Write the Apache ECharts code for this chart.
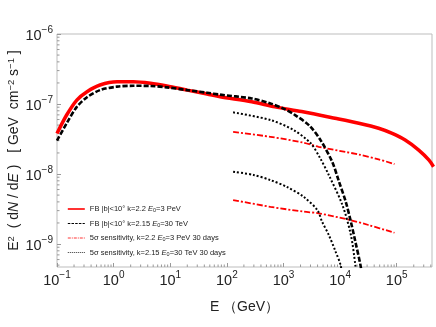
<!DOCTYPE html>
<html>
<head>
<meta charset="utf-8">
<script src="https://cdn.jsdelivr.net/npm/echarts@6/dist/echarts.min.js"></script>
<style>html,body{margin:0;padding:0;background:#fff}#c{width:436px;height:327px}</style>
</head>
<body>
<div id="c"></div>
<script>
// ---- data ----
const xMin = 0.1, xMax = 4.2e5, yMin = 4.7e-10, yMax = 1e-6;
const xTickLabels = [0.1, 1, 10, 100, 1000, 10000, 100000];
const yTickLabels = [1e-9, 1e-8, 1e-7, 1e-6];

const fbSoftE = [0.1, 0.148, 0.224, 0.339, 0.575, 1.15, 2.24, 4.47, 8.71, 20, 44.7, 76, 275, 708, 2090, 8130, 21400, 47900, 83200, 141000, 245000, 372000, 447000];
const fbSoftV = [3.8e-8, 6.97e-8, 1.14e-7, 1.50e-7, 1.87e-7, 2.08e-7, 2.08e-7, 1.98e-7, 1.81e-7, 1.58e-7, 1.39e-7, 1.27e-7, 1.08e-7, 9.1e-8, 7.8e-8, 6.25e-8, 5.3e-8, 4.5e-8, 3.8e-8, 3.06e-8, 2.2e-8, 1.58e-8, 1.27e-8];

const fbHardE = [0.1, 0.148, 0.224, 0.339, 0.575, 1.15, 2.24, 4.47, 8.71, 20, 44.7, 76, 275, 589, 1000, 1580, 2880, 4570, 7240, 9550, 12600, 15500, 18600, 22900, 26300];
const fbHardV = [3.0e-8, 5.3e-8, 9.1e-8, 1.25e-7, 1.58e-7, 1.77e-7, 1.82e-7, 1.81e-7, 1.73e-7, 1.58e-7, 1.45e-7, 1.36e-7, 1.2e-7, 1.02e-7, 8.6e-8, 7.0e-8, 4.9e-8, 3.0e-8, 1.5e-8, 7.8e-9, 4.0e-9, 2.08e-9, 1.08e-9, 5.0e-10, 2.5e-10];

const sensSoftE = [129, 589, 2290, 4170, 21400, 47900, 91200];
const sensSoftV1 = [4.0e-8, 3.4e-8, 2.8e-8, 2.45e-8, 1.9e-8, 1.62e-8, 1.39e-8];
const sensSoftE2 = [129, 589, 2290, 4170, 15100, 31600, 91200];
const sensSoftV2 = [4.25e-9, 3.4e-9, 2.9e-9, 2.75e-9, 2.2e-9, 1.87e-9, 1.45e-9];

const sensHardE1 = [129, 589, 1510, 3020, 4470, 6310, 11000, 15500, 18600, 20400];
const sensHardV1 = [7.6e-8, 5.9e-8, 4.25e-8, 2.75e-8, 1.67e-8, 9.7e-9, 3.6e-9, 1.35e-9, 5.0e-10, 2.5e-10];
const sensHardE2 = [129, 295, 589, 1170, 2290, 3980, 4790, 6310, 8320, 10200, 11700];
const sensHardV2 = [1.08e-8, 9.7e-9, 8.2e-9, 6.5e-9, 4.7e-9, 3.05e-9, 2.1e-9, 1.35e-9, 7.8e-10, 5.0e-10, 2.5e-10];

const names = [
  'FB |b|<10° k=2.2 E0=3 PeV',
  'FB |b|<10° k=2.15 E0=30 TeV',
  '5σ sensitivity, k=2.2 E0=3 PeV 30 days',
  '5σ sensitivity, k=2.15 E0=30 TeV 30 days'
];

// ---- helpers ----
const zip = (a, b) => a.map((v, i) => [v, b[i]]);
const isPow10 = v => Math.abs(Math.log10(v) - Math.round(Math.log10(v))) < 1e-6;
const supLabel = v => {
  if (!isPow10(v)) return '';
  const e = Math.round(Math.log10(v));
  return '{b|10}{s|' + String(e).replace('-', '−') + '}';
};
// minor tick values (2..9 x 10^k) inside the axis ranges
const minorX = [], minorY = [];
for (let k = -1; k <= 5; k++) for (let m = 2; m <= 9; m++) { const v = m * Math.pow(10, k); if (v > xMin && v < xMax) minorX.push(v); }
for (let k = -10; k <= -7; k++) for (let m = 2; m <= 9; m++) { const v = m * Math.pow(10, k); if (v > yMin && v < yMax) minorY.push(v); }
const tickData = minorX.map(v => [v, yMin, 0]).concat(minorY.map(v => [xMin, v, 1]));

const FF = 'Liberation Sans, Arial';
const labelRich = {
  b: { fontSize: 14.5, color: '#222', fontFamily: FF, lineHeight: 18, verticalAlign: 'bottom' },
  s: { fontSize: 10, color: '#222', fontFamily: FF, lineHeight: 18, verticalAlign: 'top', padding: [0, 0, 6, 0] }
};
const hiddenSymbol = { color: 'rgba(0,0,0,0)', borderWidth: 0, opacity: 0 };

const chart = echarts.init(document.getElementById('c'), null, { renderer: 'canvas' });
chart.setOption({
  animation: false,
  backgroundColor: '#fff',
  grid: { left: 57, right: 4, top: 34, bottom: 60, containLabel: false, outerBoundsMode: 'none',
    show: true, borderColor: '#bdbdbd', borderWidth: 1 },
  legend: {
    orient: 'vertical', left: 62, top: 200,
    itemWidth: 17, itemHeight: 10, itemGap: 6,
    itemStyle: hiddenSymbol,
    textStyle: {
      fontSize: 7.5, color: '#222', fontFamily: FF,
      rich: {
        i: { fontSize: 7.5, fontStyle: 'italic', color: '#222', fontFamily: FF },
        sub: { fontSize: 5.5, color: '#222', fontFamily: FF, verticalAlign: 'bottom', padding: [3, 0, 0, 0] }
      }
    },
    formatter: n => n.replace('E0', '{i|E}{sub|0}'),
    data: [
      { name: names[0], itemStyle: hiddenSymbol, lineStyle: { width: 1.6, color: '#ff0000', type: 'solid' } },
      { name: names[1], itemStyle: hiddenSymbol, lineStyle: { width: 1, color: '#000', type: [2.5, 1.2] } },
      { name: names[2], itemStyle: hiddenSymbol, lineStyle: { width: 0.8, color: '#ff0000', type: [3, 1, 1, 1] } },
      { name: names[3], itemStyle: hiddenSymbol, lineStyle: { width: 0.8, color: '#000', type: [1, 1] } }
    ]
  },
  xAxis: {
    type: 'log', logBase: 10, min: xMin, max: xMax,
    name: 'E （GeV）', nameLocation: 'middle', nameGap: 33,
    nameTextStyle: { fontSize: 14, color: '#222', fontFamily: FF },
    axisLine: { show: false },
    axisTick: { show: true, inside: true, length: 4, lineStyle: { color: '#999' } },
    splitLine: { show: false },
    axisLabel: { margin: 3, formatter: supLabel, rich: labelRich, showMinLabel: true, showMaxLabel: false }
  },
  yAxis: {
    type: 'log', logBase: 10, min: yMin, max: yMax,
    name: 'E{sup|2}  ( d{it|N} / d{it|E} )   [ GeV  cm{sup|−2} s{sup|−1} ]',
    nameLocation: 'middle', nameGap: 35, nameMoveOverlap: false,
    nameTextStyle: {
      fontSize: 14, color: '#222', fontFamily: FF,
      rich: {
        sup: { fontSize: 9.5, color: '#222', fontFamily: FF, verticalAlign: 'top', padding: [0, 0, 6, 0] },
        it: { fontSize: 14, fontStyle: 'italic', color: '#222', fontFamily: FF }
      }
    },
    axisLine: { show: false },
    axisTick: { show: true, inside: true, length: 4, lineStyle: { color: '#999' } },
    splitLine: { show: false },
    axisLabel: { margin: 4, formatter: supLabel, rich: labelRich, showMinLabel: false }
  },
  series: [
    { name: names[0], type: 'line', data: zip(fbSoftE, fbSoftV), smooth: 0.3, symbol: 'none', z: 3,
      lineStyle: { color: '#ff0000', width: 3.5 }, itemStyle: { color: '#ff0000' } },
    { name: names[1], type: 'line', data: zip(fbHardE, fbHardV), smooth: 0.3, symbol: 'none', z: 4,
      lineStyle: { color: '#000', width: 2.6, type: [5, 2] }, itemStyle: { color: '#000' } },
    { name: names[2], type: 'line', data: zip(sensSoftE, sensSoftV1), smooth: 0.3, symbol: 'none', z: 2,
      lineStyle: { color: '#ff0000', width: 1.8, type: [6, 2, 2, 2] }, itemStyle: { color: '#ff0000' } },
    { name: names[2], type: 'line', data: zip(sensSoftE2, sensSoftV2), smooth: 0.3, symbol: 'none', z: 2,
      lineStyle: { color: '#ff0000', width: 1.8, type: [6, 2, 2, 2] }, itemStyle: { color: '#ff0000' } },
    { name: names[3], type: 'line', data: zip(sensHardE1, sensHardV1), smooth: 0.3, symbol: 'none', z: 2,
      lineStyle: { color: '#000', width: 2, type: [2, 2] }, itemStyle: { color: '#000' } },
    { name: names[3], type: 'line', data: zip(sensHardE2, sensHardV2), smooth: 0.3, symbol: 'none', z: 2,
      lineStyle: { color: '#000', width: 2, type: [2, 2] }, itemStyle: { color: '#000' } },
    { name: 'minorTicks', type: 'custom', silent: true, z: 1, clip: false, data: tickData,
      renderItem: (params, api) => {
        const p = api.coord([api.value(0), api.value(1)]);
        const horiz = api.value(2) === 1;
        return { type: 'line', shape: horiz ? { x1: p[0], y1: p[1], x2: p[0] + 2.5, y2: p[1] } : { x1: p[0], y1: p[1], x2: p[0], y2: p[1] - 2.5 },
          style: { stroke: '#999', lineWidth: 1 } };
      } }
  ]
});
</script>
</body>
</html>
